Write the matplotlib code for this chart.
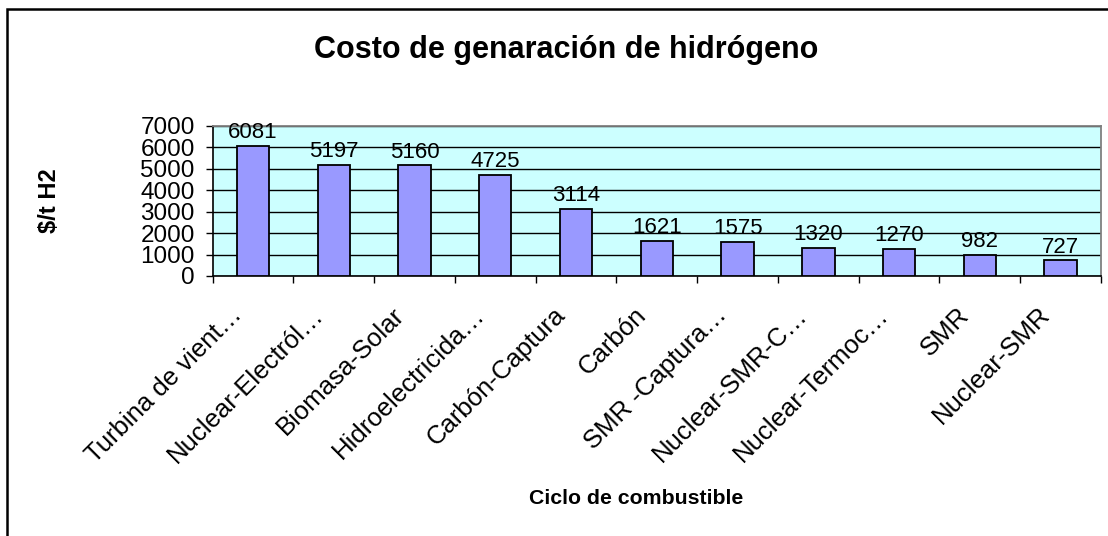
import matplotlib
matplotlib.use("Agg")
import matplotlib.pyplot as plt
import matplotlib.transforms as mtransforms
from matplotlib.patches import Rectangle

categories = ["Turbina de vient…", "Nuclear-Electról…", "Biomasa-Solar",
              "Hidroelectricida…", "Carbón-Captura", "Carbón", "SMR -Captura…",
              "Nuclear-SMR-C…", "Nuclear-Termoc…", "SMR", "Nuclear-SMR"]
values = [6081, 5197, 5160, 4725, 3114, 1621, 1575, 1320, 1270, 982, 727]
yticks = [0, 1000, 2000, 3000, 4000, 5000, 6000, 7000]

plt.rcParams['font.family'] = ['Liberation Sans', 'DejaVu Sans']

W, H = 1108, 536
fig = plt.figure(figsize=(W / 100, H / 100), dpi=100)

# outer chart frame (left/top visible; right/bottom run off the image)
fig.patches.append(Rectangle((7 / W, -0.05), 1.2, (H - 9) / H + 0.05,
                             transform=fig.transFigure, fill=False,
                             edgecolor='black', linewidth=1.8, zorder=0))

ax = fig.add_axes([212.7 / W, (H - 276) / H, (1101 - 212.7) / W, (276 - 126) / H])
ax.set_facecolor('#CCFFFF')

x = list(range(len(categories)))
ax.bar(x, values, width=0.4, color='#9999FF', edgecolor='black', linewidth=1.3, zorder=3)
for xi, v in zip(x, values):
    ax.annotate(str(v), (xi, v), xytext=(0, 2), textcoords='offset points',
                ha='center', va='bottom', fontsize=16, zorder=4)

ax.set_xlim(-0.5, len(categories) - 0.5)
ax.set_ylim(0, 7000)
ax.set_yticks(yticks)
ax.set_yticklabels([str(t) for t in yticks], fontsize=17.5)
ax.yaxis.grid(True, color='black', linewidth=1)
ax.set_axisbelow(True)
ax.tick_params(axis='y', direction='out', length=5, width=1, pad=8)

# category ticks at boundaries, labels at centres
ax.set_xticks([i - 0.5 for i in range(len(categories) + 1)])
ax.set_xticklabels([])
ax.set_xticks(x, minor=True)
labels = ax.set_xticklabels(categories, minor=True, rotation=45, ha='right',
                            rotation_mode='anchor', fontsize=18.5)
ax.tick_params(axis='x', which='major', direction='out', length=5, width=1)
ax.tick_params(axis='x', which='minor', length=0, pad=20)
offset = mtransforms.ScaledTranslation(-23 / 100, 1 / 100, fig.dpi_scale_trans)
for lab in labels:
    lab.set_transform(lab.get_transform() + offset)

for s in ['top', 'right']:
    ax.spines[s].set_color('#808080')
    ax.spines[s].set_linewidth(1.3)
for s in ['left', 'bottom']:
    ax.spines[s].set_color('black')
    ax.spines[s].set_linewidth(1.2)

fig.text(566 / W, 1 - 50 / H, "Costo de genaración de hidrógeno",
         ha='center', va='center', fontsize=22, fontweight='bold')
fig.text(50 / W, 1 - 201 / H, "$/t H2", ha='center', va='center',
         rotation=90, fontsize=17, fontweight='bold')
fig.text(636 / W, 1 - 498 / H, "Ciclo de combustible", ha='center', va='center',
         fontsize=15.3, fontweight='bold')

fig.savefig("out.png", dpi=100)
